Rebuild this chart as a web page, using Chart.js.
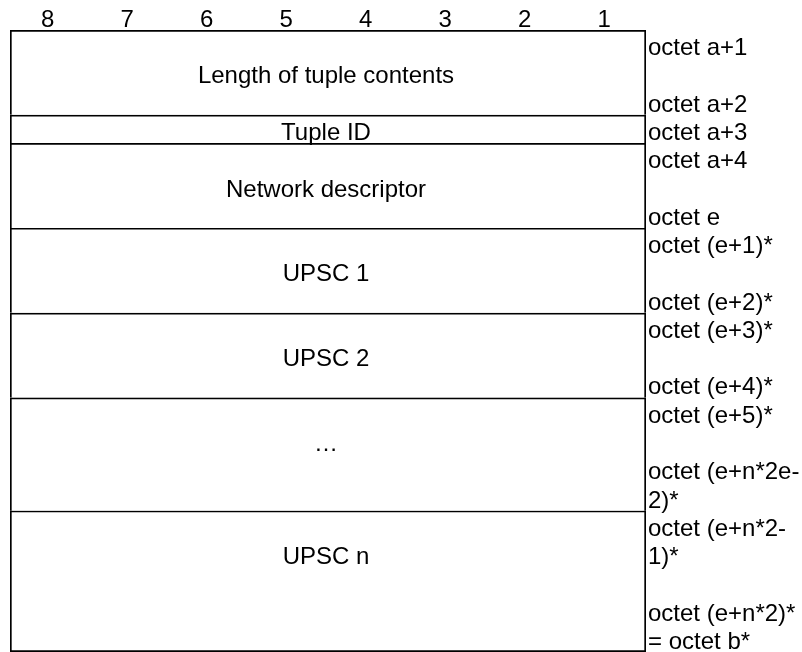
<!DOCTYPE html>
<html>
<head>
<meta charset="utf-8">
<title>Tuple contents</title>
<script src="https://cdn.jsdelivr.net/npm/chart.js@4.4.1/dist/chart.umd.min.js"></script>
<style>
    html, body { margin: 0; padding: 0; background: #ffffff; }
    canvas { display: block; }
</style>
</head>
<body>
<canvas id="octetChart" width="802" height="652"></canvas>
<script>
// ==============================
// DATA
// ==============================
const bitLabels = ["8", "7", "6", "5", "4", "3", "2", "1"];

const fieldNames = ["Length of tuple contents", "Tuple ID", "Network descriptor", "UPSC 1", "UPSC 2", "…", "UPSC n"];
const fieldLines = [3, 1, 3, 3, 3, 4, 5];        // height of each field, in text lines
const fieldTextLine = [1, 3, 5, 8, 11, 14, 18];  // line where the field name sits

const octetLabels = [
    "octet a+1", "octet a+2", "octet a+3", "octet a+4", "octet e",
    "octet (e+1)*", "octet (e+2)*", "octet (e+3)*", "octet (e+4)*", "octet (e+5)*",
    "octet (e+n*2e-", "2)*", "octet (e+n*2-", "1)*", "octet (e+n*2)*", "= octet b*"
];
const octetLines = [0, 2, 3, 4, 6, 7, 9, 10, 12, 13, 15, 16, 17, 18, 20, 21];

const totalLines = fieldLines.reduce((a, b) => a + b, 0);


// ==============================
// TEXT PLUGIN
// ==============================
const octetText = {
    id: "octetText",
    afterDatasetsDraw(chart) {
        const { ctx, scales } = chart;
        const y = scales.y;

        // the field boxes share one column, use the first bar for geometry
        const first = chart.getDatasetMeta(0).data[0];
        const left = first.x - first.width / 2;
        const right = first.x + first.width / 2;
        const bitW = first.width / bitLabels.length;

        // baseline of a text line
        const lineY = k => y.getPixelForValue(k + 0.5) + 11;

        ctx.save();
        ctx.fillStyle = "#000000";
        ctx.font = '24px "Liberation Sans", Arial, sans-serif';
        ctx.textBaseline = "alphabetic";

        // bit numbers
        ctx.textAlign = "center";
        bitLabels.forEach((b, i) => {
            ctx.fillText(b, left + (i + 0.5) * bitW - 2, lineY(-1));
        });

        // field names
        fieldNames.forEach((name, i) => {
            const bar = chart.getDatasetMeta(i).data[0];
            ctx.fillText(name, bar.x - 2, lineY(fieldTextLine[i]));
        });

        // octet labels
        ctx.textAlign = "left";
        octetLabels.forEach((t, i) => {
            ctx.fillText(t, right + 2, lineY(octetLines[i]));
        });

        ctx.restore();
    }
};


// ==============================
// CHART
// ==============================
const datasets = fieldNames.map((name, i) => ({
    label: name,
    data: [fieldLines[i]],
    backgroundColor: "#ffffff",
    borderColor: "#000000",
    borderWidth: { top: 2, left: 2, right: 2, bottom: i === fieldNames.length - 1 ? 2 : 0 },
    borderSkipped: false,
    barPercentage: 1,
    categoryPercentage: 1
}));

new Chart(document.getElementById("octetChart"), {
    type: "bar",
    data: {
        labels: ["tuple"],
        datasets
    },
    options: {
        responsive: false,
        devicePixelRatio: 1,
        animation: false,
        layout: {
            padding: { left: 10, right: 156, top: 30, bottom: 0 }
        },
        plugins: {
            legend: { display: false },
            tooltip: { enabled: false }
        },
        scales: {
            x: { type: "category", stacked: true, display: false },
            y: { type: "linear", stacked: true, reverse: true, min: 0, max: totalLines, display: false }
        }
    },
    plugins: [octetText]
});
</script>
</body>
</html>
